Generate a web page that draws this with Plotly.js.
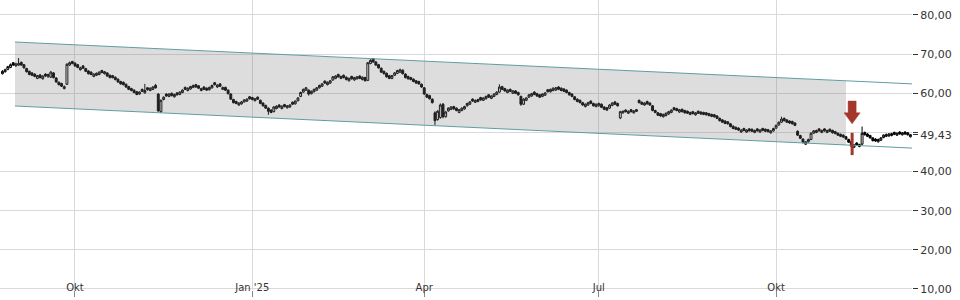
<!DOCTYPE html>
<html>
<head>
<meta charset="utf-8">
<script src="https://cdn.plot.ly/plotly-3.0.1.min.js"></script>
<style>html,body{margin:0;padding:0;background:#fff;}#chart{width:960px;height:300px;}</style>
</head>
<body>
<div id="chart"></div>
<script>
// ---- trading days (weekdays) covered by the chart ----
const firstDay = '2024-08-23';
const lastDay = '2025-12-10';

// ---- daily OHLC, one row per week (Mon..Fri) ----
const opens = [
 65.0,
 65.5,66.1,66.6,67.8,67.0, 67.2,67.9,67.3,66.3,65.6, 65.2,64.9,63.8,64.7,63.7, 64.9,64.2,64.1,65.2,63.9,
 62.8,62.5,61.2,62.3,67.2, 68.1,67.7,67.3,66.0,67.0, 66.3,65.7,65.4,64.3,64.6, 64.8,65.8,65.0,65.2,64.6,
 64.5,64.1,63.6,63.0,62.8, 62.3,61.7,61.2,60.8,60.4, 59.8,61.0,60.1,61.4,60.7, 61.0,62.0,59.8,55.3,58.4,
 59.8,59.2,60.0,59.1,60.1, 59.7,60.2,61.5,60.7,61.1, 61.5,62.2,61.9,60.7,61.6, 61.3,60.9,61.4,62.7,61.6,
 62.4,61.0,61.5,60.8,59.8, 58.4,57.9,57.0,57.3,57.8, 58.0,59.1,58.9,58.1,59.0,
 58.2,57.5,56.9,56.2,55.7, 55.3,56.1,57.0,56.1,57.1, 56.3,56.5,57.7,57.3,58.1, 59.2,60.3,60.8,60.8,59.9,
 60.4,60.8,61.4,61.8,63.1, 62.2,62.6,63.4,63.8,64.8, 63.8,64.6,64.1,63.2,64.3, 63.4,63.7,64.4,63.5,64.0,
 63.3,67.6,68.8,68.0,67.3, 66.4,65.6,65.1,64.5,63.8, 64.6,65.1,65.4,65.9,64.9, 64.3,64.0,63.6,63.2,63.0,
 62.3,61.4,59.7,59.4,58.5, 55.0,53.3,53.8,57.2,54.0, 55.5,55.9,56.6,56.2,55.1, 55.6,56.0,56.8,57.2,58.5,
 57.7,57.9,58.9,58.2,58.6, 59.6,58.7,59.2,59.7,60.3, 61.7,61.2,60.2,61.0,60.0, 60.6,60.2,59.2,57.2,58.2,
 59.0,59.3,60.3,59.9,59.6, 59.2,59.5,60.9,60.4,60.7, 60.8,61.6,61.3,61.1,60.8, 60.2,59.8,59.1,58.5,58.2,
 57.6,56.6,57.0,58.0,57.4, 56.6,56.8,57.2,56.5,56.3, 56.2,56.9,57.8,57.4,53.7, 55.0,55.7,54.9,55.8,55.0,
 55.8,58.2,57.7,57.0,57.9, 57.5,56.8,55.6,55.0,54.8, 54.0,54.3,54.7,55.1,56.3, 56.1,55.2,55.9,55.6,55.4,
 54.6,55.3,54.5,55.4,55.2, 55.1,55.0,54.8,54.6,54.5, 54.2,53.6,53.2,52.9,52.7, 52.2,51.6,51.3,51.1,50.1,
 51.0,50.1,50.9,50.8,50.0, 50.9,50.1,51.0,50.8,50.7, 49.9,50.4,51.1,51.9,52.6, 53.6,53.2,52.9,52.8,52.4,
 50.3,49.2,48.3,47.0,47.6, 48.2,49.8,50.0,50.9,50.0, 50.9,50.0,50.8,50.5,50.2, 49.8,49.5,49.3,48.9,48.2,
 47.6,46.2,47.3,46.4,47.0, 50.0,49.6,49.2,48.6,48.3, 47.6,48.0,48.7,49.0,49.1, 49.2,50.0,49.3,50.1,49.4,
 50.1,49.9,48.9
];
const highs = [
 65.9,
 66.3,67.0,67.6,68.0,67.8, 69.0,68.1,67.5,66.5,65.8, 65.4,65.1,64.7,64.9,64.6, 65.1,65.0,65.7,65.4,64.1,
 63.0,62.7,62.0,67.7,68.1, 68.3,67.9,67.5,66.8,67.2, 66.5,65.9,65.6,65.1,65.3, 65.6,66.0,65.7,65.4,64.8,
 64.7,64.3,63.8,63.2,63.0, 62.5,61.9,61.4,61.0,60.6, 60.5,61.2,62.4,61.6,61.5, 61.8,62.4,60.0,58.4,59.2,
 60.0,60.0,60.2,59.9,60.3, 60.5,61.0,61.7,61.5,61.9, 62.2,62.4,62.1,61.4,61.8, 61.5,61.7,62.2,62.9,62.3,
 62.6,61.7,61.7,61.0,60.0, 58.6,58.1,57.7,58.0,58.5, 58.7,59.3,59.1,58.8,59.2,
 58.4,57.7,57.1,56.4,55.9, 56.7,56.9,57.2,56.9,57.3, 57.0,57.2,57.9,58.2,59.0, 60.4,61.2,61.6,61.0,60.7,
 61.2,61.6,62.2,62.6,63.3, 63.0,63.4,64.4,64.6,65.0, 64.5,64.8,64.3,64.0,64.5, 64.2,64.4,64.6,64.3,64.2,
 68.0,68.7,69.0,68.2,67.5, 66.6,65.8,65.3,64.7,64.7, 65.4,66.0,66.3,66.1,65.1, 64.5,64.2,63.8,63.4,63.2,
 62.5,61.6,59.9,59.6,58.7, 55.4,55.7,57.4,57.5,55.5, 56.4,56.7,56.8,56.4,56.0, 56.4,56.8,57.6,58.0,58.7,
 58.4,58.6,59.1,59.0,59.4, 59.8,59.5,60.0,60.5,62.3, 61.9,61.4,61.0,61.2,60.8, 60.8,60.4,59.4,58.7,59.0,
 59.8,60.1,60.5,60.1,59.8, 60.0,60.3,61.1,61.2,61.5, 61.6,61.8,61.5,61.3,61.0, 60.4,60.0,59.3,58.7,58.4,
 57.8,57.4,57.8,58.2,57.6, 57.4,57.6,57.4,56.7,56.5, 57.2,57.7,58.0,57.6,55.5, 55.6,55.9,55.6,56.0,55.7,
 56.0,58.4,57.9,57.7,58.1, 57.7,57.0,55.8,55.2,55.0, 54.8,55.1,55.5,55.9,56.5, 56.3,56.0,56.1,55.8,55.6,
 55.3,55.5,55.2,55.6,55.4, 55.3,55.2,55.0,54.8,54.7, 54.4,53.8,53.4,53.1,52.9, 52.4,51.8,51.5,51.3,50.8,
 51.2,50.8,51.1,51.0,50.7, 51.1,50.8,51.2,51.0,50.9, 50.6,51.2,52.0,52.8,54.0, 53.8,53.4,53.1,53.0,52.6,
 50.5,49.4,48.5,47.8,48.4, 50.0,50.6,50.7,51.1,50.7, 51.1,50.7,51.0,50.7,50.4, 50.0,49.7,49.5,49.1,48.4,
 48.1,47.0,47.5,47.1,51.5, 50.2,49.8,49.4,48.8,48.5, 48.4,48.8,49.5,49.7,49.8, 49.9,50.2,50.0,50.3,50.1,
 50.3,50.1,49.6
];
const lows = [
 64.8,
 65.3,65.9,66.4,67.0,66.8, 67.0,67.0,66.3,65.3,64.6, 64.4,64.1,63.6,63.8,63.5, 64.2,64.0,63.9,63.8,62.7,
 62.0,61.6,61.0,62.1,67.0, 67.4,66.8,66.4,65.8,66.2, 65.4,64.8,64.6,64.1,64.4, 64.6,65.1,64.8,64.2,63.8,
 63.8,63.3,62.7,62.2,62.0, 61.4,60.8,60.5,60.0,59.5, 59.6,60.3,59.9,60.7,60.5, 60.8,61.2,55.3,55.0,58.2,
 59.1,59.0,59.2,58.9,59.4, 59.5,60.0,60.8,60.5,60.9, 61.3,61.4,61.1,60.5,60.8, 60.6,60.7,61.2,62.0,61.4,
 61.6,60.8,60.6,59.7,58.3, 57.4,57.2,56.8,57.1,57.6, 57.8,58.4,58.2,57.9,58.3,
 57.2,56.6,56.0,54.5,54.9, 55.1,55.9,56.3,55.9,56.4, 56.1,56.3,57.0,57.1,57.9, 59.0,60.1,60.6,59.4,59.7,
 60.2,60.6,61.2,61.6,62.4, 62.0,62.4,63.2,63.6,64.0, 63.6,63.8,63.3,63.0,63.5, 63.2,63.5,63.6,63.3,63.0,
 63.1,67.4,67.8,67.0,66.3, 65.2,64.8,64.0,63.6,63.6, 64.4,64.9,65.2,64.8,63.8, 63.5,63.3,62.8,62.4,62.2,
 61.4,59.6,58.8,58.4,57.4, 51.9,53.0,53.5,53.6,53.8, 55.3,55.7,55.8,55.4,54.9, 55.4,55.8,56.6,57.0,57.8,
 57.5,57.7,58.1,58.0,58.4, 58.8,58.5,59.0,59.5,60.1, 60.8,60.4,60.0,60.3,59.8, 59.8,59.4,56.8,57.0,58.0,
 58.8,59.1,59.5,59.1,58.8, 59.0,59.3,60.2,60.2,60.5, 60.6,60.8,60.5,60.3,60.0, 59.4,59.0,58.2,57.7,57.4,
 56.8,56.4,56.8,57.2,56.6, 56.4,56.6,56.2,55.7,55.5, 56.0,56.7,57.0,56.6,53.4, 54.8,55.1,54.7,55.1,54.8,
 55.2,57.4,57.0,56.8,57.1, 56.8,55.4,54.9,54.2,54.0, 53.8,54.1,54.5,54.9,55.6, 55.4,55.0,55.1,54.8,54.7,
 54.4,54.6,54.3,54.7,54.5, 54.4,54.3,54.1,53.9,53.8, 53.4,52.8,52.4,52.1,52.0, 51.3,50.8,50.6,50.4,49.9,
 50.3,49.9,50.2,50.1,49.8, 50.2,49.9,50.3,50.1,50.0, 49.7,50.2,50.9,51.7,52.4, 52.8,52.4,52.2,52.0,51.6,
 49.1,48.3,47.2,46.8,47.4, 48.0,49.6,49.8,50.2,49.8, 50.2,49.8,50.1,49.7,49.5, 49.1,48.8,48.6,48.1,47.3,
 46.2,46.0,46.6,46.2,46.8, 49.2,48.8,48.4,47.7,47.6, 47.4,47.8,48.5,48.8,48.9, 49.0,49.3,49.1,49.4,49.2,
 49.4,49.2,48.7
];
const closes = [
 65.6,
 66.0,66.8,67.3,67.2,67.5, 67.6,67.2,66.5,65.5,64.8, 64.6,64.3,64.5,64.0,64.4, 64.4,64.8,65.4,64.0,62.9,
 62.2,61.8,61.7,67.4,67.8, 67.6,67.0,66.6,66.5,66.4, 65.6,65.0,64.8,64.9,65.1, 65.4,65.3,65.5,64.4,64.0,
 64.0,63.5,62.9,62.4,62.2, 61.6,61.0,60.7,60.2,59.7, 60.3,60.5,60.7,60.9,61.3, 61.6,61.4,55.5,58.2,59.0,
 59.3,59.8,59.4,59.7,59.6, 60.3,60.8,61.0,61.3,61.7, 62.0,61.6,61.3,61.2,61.0, 60.8,61.5,62.0,62.2,62.1,
 61.8,61.5,60.8,59.9,58.5, 57.6,57.4,57.5,57.8,58.3, 58.5,58.6,58.4,58.6,58.5,
 57.4,56.8,56.2,55.4,55.1, 56.5,56.7,56.5,56.7,56.6, 56.8,57.0,57.2,58.0,58.8, 60.2,61.0,61.4,59.8,60.5,
 61.0,61.4,62.0,62.4,62.6, 62.8,63.2,64.2,64.4,64.2, 64.3,64.0,63.5,63.8,63.7, 64.0,64.2,63.8,64.1,63.2,
 67.8,68.4,68.0,67.2,66.5, 65.4,65.0,64.2,63.8,64.5, 65.2,65.8,66.0,65.0,64.0, 63.7,63.5,63.0,62.6,62.4,
 61.6,59.8,59.0,58.6,57.6, 53.0,55.4,57.0,54.0,55.2, 56.2,56.5,56.0,55.6,55.8, 56.2,56.6,57.4,57.8,58.0,
 58.2,58.4,58.3,58.8,59.2, 59.0,59.3,59.8,60.3,61.6, 61.0,60.6,60.8,60.5,60.6, 60.0,59.6,57.2,58.5,58.8,
 59.6,59.9,59.7,59.3,59.0, 59.8,60.1,60.4,61.0,61.3, 61.4,61.0,60.7,60.5,60.2, 59.6,59.2,58.4,57.9,57.6,
 57.0,57.2,57.6,57.4,56.8, 57.2,57.4,56.4,55.9,55.7, 57.0,57.5,57.2,56.8,55.3, 55.4,55.3,55.4,55.3,55.5,
 55.4,57.6,57.2,57.5,57.3, 57.0,55.6,55.1,54.4,54.2, 54.6,54.9,55.3,55.7,55.8, 55.6,55.8,55.3,55.0,54.9,
 55.1,54.8,55.0,54.9,54.7, 54.6,54.5,54.3,54.1,54.0, 53.6,53.0,52.6,52.3,52.2, 51.5,51.0,50.8,50.6,50.6,
 50.5,50.6,50.4,50.3,50.5, 50.4,50.6,50.5,50.3,50.2, 50.4,51.0,51.8,52.6,53.4, 53.0,52.6,52.4,52.2,51.8,
 49.3,48.5,47.5,47.6,48.2, 49.8,50.4,50.5,50.4,50.5, 50.4,50.5,50.3,49.9,49.7, 49.3,49.0,48.8,48.3,47.5,
 46.5,46.8,46.8,46.9,49.8, 49.4,49.0,48.6,47.9,47.8, 48.2,48.6,49.3,49.5,49.6, 49.7,49.5,49.8,49.6,49.9,
 49.6,49.4,49.43
];

// ---- trend channel ----
const channelDates = ['2024-08-29 16:00', '2025-12-10 14:00'];
const channelTop = [73.1, 62.4];
const channelBottom = [56.75, 46.0];
const channelFillDates = ['2024-08-29 16:00', '2025-11-06 00:00'];
const channelFillTop = [73.1, 63.16];
const channelFillBottom = [56.75, 46.8];

// ---- sell signal ----
const signalDate = '2025-11-10 07:00';
const signalArrowTop = 58.0, signalArrowNeck = 55.0, signalArrowTip = 52.2;
const signalBarLow = 44.2, signalBarHigh = 49.9;
const lastPrice = 49.43;

// ---- axis ticks ----
const xTickVals = ['2024-10-01', '2025-01-01', '2025-04-01', '2025-07-01', '2025-10-01'];
const xTickText = ['Okt', "Jan '25", 'Apr', 'Jul', 'Okt'];
const yTickVals = [10, 20, 30, 40, 50, 60, 70, 80];

// build weekday list
const dates = [];
{
  const d = new Date(firstDay + 'T00:00:00Z');
  const end = new Date(lastDay + 'T00:00:00Z');
  while (d <= end) {
    const wd = d.getUTCDay();
    if (wd !== 0 && wd !== 6) dates.push(d.toISOString().slice(0, 10));
    d.setUTCDate(d.getUTCDate() + 1);
  }
}
const n = Math.min(dates.length, closes.length, opens.length, highs.length, lows.length);
const X = dates.slice(0, n);

const fmt = v => v.toFixed(2).replace('.', ',');
const teal = '#5f9ea0';
const red = '#a3372c';

const traces = [
  { // channel fill
    type: 'scatter', mode: 'none', fill: 'toself', fillcolor: 'rgba(120,120,120,0.25)',
    x: [channelFillDates[0], channelFillDates[1], channelFillDates[1], channelFillDates[0]],
    y: [channelFillTop[0], channelFillTop[1], channelFillBottom[1], channelFillBottom[0]],
    hoverinfo: 'skip', showlegend: false
  },
  { type: 'scatter', mode: 'lines', x: channelDates, y: channelTop,
    line: {color: teal, width: 1}, hoverinfo: 'skip', showlegend: false },
  { type: 'scatter', mode: 'lines', x: channelDates, y: channelBottom,
    line: {color: teal, width: 1}, hoverinfo: 'skip', showlegend: false },
  { // signal bar
    type: 'scatter', mode: 'lines', x: [signalDate, signalDate], y: [signalBarLow, signalBarHigh],
    line: {color: red, width: 3}, hoverinfo: 'skip', showlegend: false },
  {
    type: 'candlestick', x: X,
    open: opens.slice(0, n), high: highs.slice(0, n), low: lows.slice(0, n), close: closes.slice(0, n),
    increasing: {line: {color: '#000000', width: 1}, fillcolor: '#ffffff'},
    decreasing: {line: {color: '#000000', width: 1}, fillcolor: '#000000'},
    whiskerwidth: 0, hoverinfo: 'skip', showlegend: false
  },
  { // carrier for last-price axis
    type: 'scatter', mode: 'markers', x: [X[n - 1]], y: [lastPrice], yaxis: 'y2',
    marker: {size: 1, color: 'rgba(0,0,0,0)'}, hoverinfo: 'skip', showlegend: false
  }
];

const yRange = [9.74, 83.83];
const layout = {
  width: 960, height: 300,
  margin: {l: 0, r: 48, t: 0, b: 10, pad: 0},
  paper_bgcolor: '#ffffff', plot_bgcolor: '#ffffff',
  separators: ',.',
  showlegend: false,
  boxgap: 0,
  xaxis: {
    type: 'date', range: ['2024-08-22 02:00', '2025-12-10 14:00'],
    rangebreaks: [{bounds: ['sat', 'mon']}],
    tickvals: xTickVals, ticktext: xTickText,
    showgrid: true, gridcolor: '#d9d9d9', gridwidth: 1,
    ticks: 'outside', ticklen: 6, tickcolor: '#888888',
    ticklabelposition: 'outside', ticklabelstandoff: -18, ticklabeloverflow: 'allow',
    tickfont: {family: 'Liberation Sans Narrow, DejaVu Sans', size: 10, color: '#333333'},
    zeroline: false, showline: false,
    rangeslider: {visible: false}, fixedrange: true
  },
  yaxis: {
    side: 'right', range: yRange,
    tickvals: yTickVals, ticktext: yTickVals.map(v => v === 50 ? '' : fmt(v)),
    showgrid: true, gridcolor: '#d9d9d9', gridwidth: 1,
    ticks: 'outside', ticklen: 5, tickcolor: '#333333',
    ticklabeloverflow: 'allow',
    tickfont: {family: 'DejaVu Sans', size: 11, color: '#333333'},
    zeroline: false, showline: false, fixedrange: true
  },
  yaxis2: {
    overlaying: 'y', side: 'right', range: yRange,
    tickvals: [lastPrice], ticktext: [fmt(lastPrice)],
    showgrid: false, ticks: 'outside', ticklen: 5, tickcolor: '#333333',
    tickfont: {family: 'DejaVu Sans', size: 11, color: '#333333'},
    zeroline: false, showline: false, fixedrange: true
  },
  shapes: [{ // down arrow above the signal candle (width in px, height in price)
    type: 'path', xref: 'x', yref: 'y', xsizemode: 'pixel', xanchor: signalDate,
    path: `M -4,${signalArrowTop} L 4,${signalArrowTop} L 4,${signalArrowNeck} L 8,${signalArrowNeck} ` +
          `L 0,${signalArrowTip} L -8,${signalArrowNeck} L -4,${signalArrowNeck} Z`,
    fillcolor: red, line: {color: red, width: 0.5}, layer: 'above'
  }]
};

Plotly.newPlot('chart', traces, layout, {displayModeBar: false, staticPlot: true});
</script>
</body>
</html>
